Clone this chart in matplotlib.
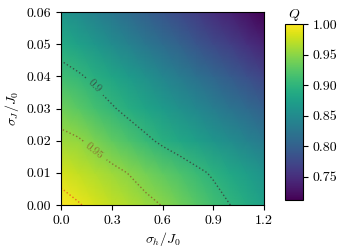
import numpy as np
import matplotlib
matplotlib.use("Agg")
import matplotlib.pyplot as plt

plt.rcParams['font.family'] = 'serif'
plt.rcParams['font.serif'] = ['cmr10']
plt.rcParams['mathtext.fontset'] = 'cm'
plt.rcParams['axes.formatter.use_mathtext'] = True
plt.rcParams['font.size'] = 10

# grid: sigma_h / J0 (columns) and sigma_J / J0 (rows)
sigma_h = [0.0, 0.1, 0.2, 0.3, 0.4, 0.5, 0.6, 0.7, 0.8, 0.9, 1.0, 1.1, 1.2]
sigma_J = [0.00, 0.01, 0.02, 0.03, 0.04, 0.05, 0.06]

# Q values, one row per sigma_J
q_row0 = [1.000, 0.992, 0.983, 0.974, 0.966, 0.957, 0.949, 0.937, 0.925, 0.913, 0.900, 0.888, 0.876]
q_row1 = [0.981, 0.974, 0.966, 0.958, 0.949, 0.939, 0.928, 0.918, 0.907, 0.896, 0.884, 0.872, 0.860]
q_row2 = [0.958, 0.953, 0.942, 0.930, 0.918, 0.906, 0.894, 0.884, 0.873, 0.862, 0.852, 0.841, 0.830]
q_row3 = [0.936, 0.926, 0.914, 0.903, 0.891, 0.880, 0.869, 0.857, 0.846, 0.834, 0.823, 0.811, 0.800]
q_row4 = [0.912, 0.904, 0.893, 0.881, 0.869, 0.856, 0.844, 0.832, 0.819, 0.807, 0.795, 0.782, 0.770]
q_row5 = [0.887, 0.876, 0.864, 0.851, 0.839, 0.826, 0.814, 0.802, 0.789, 0.777, 0.765, 0.752, 0.740]
q_row6 = [0.862, 0.851, 0.838, 0.826, 0.813, 0.800, 0.788, 0.776, 0.763, 0.750, 0.738, 0.725, 0.712]

levels = [0.9, 0.95, 0.99]
level_colors = ['#3a3a3a', '#8a5a2a', '#e8501e']

Q = np.array([q_row0, q_row1, q_row2, q_row3, q_row4, q_row5, q_row6])
X, Y = np.meshgrid(sigma_h, sigma_J)

fig = plt.figure(figsize=(3.4, 2.5), dpi=100)
ax = fig.add_axes([0.18, 0.18, 0.597, 0.772])
cax = fig.add_axes([0.838, 0.20, 0.053, 0.704])

mesh = ax.pcolormesh(X, Y, Q, shading='gouraud', cmap='viridis', vmin=0.712, vmax=1.0)
cs = ax.contour(X, Y, Q, levels=levels, colors=level_colors, linestyles=':', linewidths=1.0, alpha=0.8)
ax.clabel(cs, levels=[0.9, 0.95], fmt={0.9: '0.9', 0.95: '0.95'}, fontsize=8, inline=True,
          manual=[(0.2, 0.037), (0.2, 0.017)])

ax.set_xlim(0, 1.2)
ax.set_ylim(0, 0.06)
ax.set_xticks([0.0, 0.3, 0.6, 0.9, 1.2])
ax.set_yticks([0.00, 0.01, 0.02, 0.03, 0.04, 0.05, 0.06])
ax.set_xticklabels(['0.0', '0.3', '0.6', '0.9', '1.2'])
ax.set_yticklabels(['0.00', '0.01', '0.02', '0.03', '0.04', '0.05', '0.06'])
ax.set_xlabel(r'$\sigma_h/J_0$', labelpad=2)
ax.set_ylabel(r'$\sigma_J/J_0$', labelpad=4)

cb = fig.colorbar(mesh, cax=cax)
cb.set_ticks([0.75, 0.80, 0.85, 0.90, 0.95, 1.00])
cb.set_ticklabels(['0.75', '0.80', '0.85', '0.90', '0.95', '1.00'])
cb.outline.set_linewidth(0.8)
cax.set_title(r'$Q$', fontsize=10, pad=4)

fig.savefig('out.png', dpi=100)
